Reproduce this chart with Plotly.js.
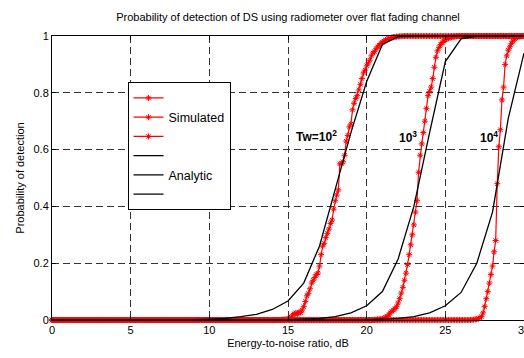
<!DOCTYPE html>
<html>
<head>
<meta charset="utf-8">
<script src="https://cdn.plot.ly/plotly-3.0.1.min.js"></script>
<style>html,body{margin:0;padding:0;background:#fff;}#chart{width:524px;height:358px;}</style>
</head>
<body>
<div id="chart"></div>
<script>
// Analytic curves, sampled at integer dB (0..30)
const anaX = [0,1,2,3,4,5,6,7,8,9,10,11,12,13,14,15,16,17,18,19,20,21,22,23,24,25,26,27,28,29,30];
const anaY100 = [0,0,0,0,0,0,0,0,0,0.001,0.003,0.006,0.012,0.02,0.037,0.067,0.13,0.26,0.46,0.66,0.84,0.97,0.998,1,1,1,1,1,1,1,1];
const anaY1000 = [0,0,0,0,0,0,0,0,0,0,0,0,0,0,0,0.001,0.003,0.006,0.012,0.025,0.05,0.1,0.215,0.40,0.66,0.91,0.99,1,1,1,1];
const anaY10000 = [0,0,0,0,0,0,0,0,0,0,0,0,0,0,0,0,0,0,0,0,0.001,0.003,0.006,0.012,0.025,0.05,0.097,0.2,0.38,0.71,0.94];

// Simulated curves, sampled every 0.1 dB (0..30), one row per dB
const simY100 = [
 0,0,0,0,0,0,0,0,0,0, 0,0,0,0,0,0,0,0,0,0, 0,0,0,0,0,0,0,0,0,0, 0,0,0,0,0,0,0,0,0,0, 0,0,0,0,0,0,0,0,0,0,
 0,0,0,0,0,0,0,0,0,0, 0,0,0,0,0,0,0,0,0,0, 0,0,0,0,0,0,0,0,0,0, 0,0,0,0,0,0,0,0,0,0, 0,0,0,0,0,0,0,0,0,0,
 0,0,0,0,0,0,0,0,0,0, 0,0,0,0,0,0,0,0,0,0, 0,0,0,0,0,0,0,0,0,0, 0,0,0,0,0,0,0,0,0,0,
 0,0,0,0,0,0,0.001,0.001,0.002,0.002,
 0.003,0.006,0.01,0.018,0.022,0.025,0.02,0.028,0.026,0.035,
 0.047,0.065,0.085,0.094,0.11,0.13,0.14,0.15,0.16,0.165,
 0.19,0.23,0.26,0.27,0.29,0.305,0.32,0.34,0.352,0.39,
 0.42,0.44,0.458,0.55,0.55,0.557,0.58,0.63,0.65,0.68,
 0.69,0.74,0.763,0.78,0.79,0.81,0.83,0.85,0.87,0.88,
 0.895,0.905,0.915,0.93,0.94,0.945,0.955,0.962,0.968,0.974,
 0.978,0.982,0.986,0.989,0.991,0.993,0.995,0.996,0.997,0.998,
 0.998,0.999,0.999,1,1,1,1,1,1,1,
 1,1,1,1,1,1,1,1,1,1, 1,1,1,1,1,1,1,1,1,1, 1,1,1,1,1,1,1,1,1,1, 1,1,1,1,1,1,1,1,1,1,
 1,1,1,1,1,1,1,1,1,1, 1,1,1,1,1,1,1,1,1,1, 1,1,1,1,1,1,1,1,1,1,
 1
];
const simY1000 = [
 0,0,0,0,0,0,0,0,0,0, 0,0,0,0,0,0,0,0,0,0, 0,0,0,0,0,0,0,0,0,0, 0,0,0,0,0,0,0,0,0,0, 0,0,0,0,0,0,0,0,0,0,
 0,0,0,0,0,0,0,0,0,0, 0,0,0,0,0,0,0,0,0,0, 0,0,0,0,0,0,0,0,0,0, 0,0,0,0,0,0,0,0,0,0, 0,0,0,0,0,0,0,0,0,0,
 0,0,0,0,0,0,0,0,0,0, 0,0,0,0,0,0,0,0,0,0, 0,0,0,0,0,0,0,0,0,0, 0,0,0,0,0,0,0,0,0,0, 0,0,0,0,0,0,0,0,0,0,
 0,0,0,0,0,0,0,0,0,0, 0,0,0,0,0,0,0,0,0,0, 0,0,0,0,0,0,0,0,0,0, 0,0,0,0,0,0,0,0,0,0, 0,0,0,0,0,0,0,0,0,0,
 0,0,0,0,0,0.001,0.001,0.002,0.002,0.003,
 0.004,0.006,0.01,0.012,0.018,0.025,0.03,0.035,0.04,0.047,
 0.06,0.075,0.095,0.115,0.14,0.165,0.195,0.23,0.265,0.3,
 0.335,0.38,0.42,0.52,0.58,0.62,0.66,0.70,0.745,0.79,
 0.805,0.82,0.85,0.89,0.925,0.948,0.96,0.97,0.977,0.982,
 0.986,0.99,0.992,0.994,0.996,0.997,0.998,0.999,1,1,
 1,1,1,1,1,1,1,1,1,1, 1,1,1,1,1,1,1,1,1,1, 1,1,1,1,1,1,1,1,1,1, 1,1,1,1,1,1,1,1,1,1,
 1
];
const simY10000 = [
 0,0,0,0,0,0,0,0,0,0, 0,0,0,0,0,0,0,0,0,0, 0,0,0,0,0,0,0,0,0,0, 0,0,0,0,0,0,0,0,0,0, 0,0,0,0,0,0,0,0,0,0,
 0,0,0,0,0,0,0,0,0,0, 0,0,0,0,0,0,0,0,0,0, 0,0,0,0,0,0,0,0,0,0, 0,0,0,0,0,0,0,0,0,0, 0,0,0,0,0,0,0,0,0,0,
 0,0,0,0,0,0,0,0,0,0, 0,0,0,0,0,0,0,0,0,0, 0,0,0,0,0,0,0,0,0,0, 0,0,0,0,0,0,0,0,0,0, 0,0,0,0,0,0,0,0,0,0,
 0,0,0,0,0,0,0,0,0,0, 0,0,0,0,0,0,0,0,0,0, 0,0,0,0,0,0,0,0,0,0, 0,0,0,0,0,0,0,0,0,0, 0,0,0,0,0,0,0,0,0,0,
 0,0,0,0,0,0,0,0,0,0, 0,0,0,0,0,0,0,0,0,0, 0,0,0,0,0,0,0,0,0,0, 0,0,0,0,0,0,0,0,0,0, 0,0,0,0,0,0,0,0,0,0,
 0,0,0,0,0,0,0,0,0,0,
 0,0,0,0,0,0,0,0.001,0.001,0.002,
 0.003,0.005,0.008,0.012,0.025,0.047,0.075,0.1,0.13,0.16,
 0.19,0.24,0.28,0.48,0.61,0.67,0.775,0.82,0.9,0.93,
 0.95,0.962,0.974,0.982,0.99,0.993,0.996,0.998,0.999,1,
 1
];
// sampling grid of the simulation: 0, 0.1, ..., 30 dB
const simX = simY100.map((_, i) => i / 10);

const xTicks = [0, 5, 10, 15, 20, 25, 30];
const yTicks = [0, 0.2, 0.4, 0.6, 0.8, 1];

const labelTw = ["Tw=10<sup>2</sup>", "10<sup>3</sup>", "10<sup>4</sup>"];
const labelX = [16.8, 22.65, 27.75];
const labelY = [0.648, 0.645, 0.645];

const FONT = "Liberation Sans, Arial, sans-serif";
const RED = "#ff0000";

function simTrace(y, name) {
  return {
    x: simX, y: y, name: name, type: "scatter", mode: "lines+markers",
    line: {color: RED, width: 1.2},
    marker: {symbol: "asterisk-open", size: 5, color: RED, line: {color: RED, width: 1}},
    cliponaxis: false, showlegend: true
  };
}
function anaTrace(y, name) {
  return {
    x: anaX, y: y, name: name, type: "scatter", mode: "lines",
    line: {color: "#000000", width: 1.3}, showlegend: true
  };
}

const data = [
  simTrace(simY100, " "),
  simTrace(simY1000, "Simulated"),
  simTrace(simY10000, " "),
  anaTrace(anaY100, " "),
  anaTrace(anaY1000, "Analytic"),
  anaTrace(anaY10000, " ")
];

const annotations = labelTw.map((t, i) => ({
  x: labelX[i], y: labelY[i], xref: "x", yref: "y", text: "<b>" + t + "</b>",
  showarrow: false, xanchor: "center", yanchor: "middle",
  font: {family: FONT, size: 12, color: "#000"}
}));

const axisCommon = {
  showline: true, linecolor: "#000", linewidth: 1, mirror: "ticks",
  ticks: "inside", ticklen: 4, tickcolor: "#000", tickwidth: 1,
  showgrid: true, gridcolor: "#333", gridwidth: 1, griddash: "7px,4px",
  zeroline: false, ticklabeloverflow: "allow",
  tickfont: {family: FONT, size: 11, color: "#000"}
};

const layout = {
  width: 524, height: 358,
  margin: {l: 52, r: 0, t: 36, b: 38},
  paper_bgcolor: "#fff", plot_bgcolor: "#fff",
  font: {family: FONT, size: 11, color: "#000"},
  title: {text: "Probability of detection of DS using radiometer over flat fading channel",
          font: {family: FONT, size: 11, color: "#000"},
          x: 0.5, xref: "paper", y: 0.952, yref: "container", yanchor: "middle"},
  xaxis: Object.assign({}, axisCommon, {
    range: [0, 30], tickvals: xTicks, autorange: false,
    title: {text: "Energy-to-noise ratio, dB", font: {family: FONT, size: 11, color: "#000"}, standoff: 4}
  }),
  yaxis: Object.assign({}, axisCommon, {
    range: [0, 1], tickvals: yTicks, autorange: false,
    title: {text: "Probability of detection", font: {family: FONT, size: 11, color: "#000"}, standoff: 6}
  }),
  legend: {
    x: 0.160, y: 0.837, xanchor: "left", yanchor: "top",
    bgcolor: "#fff", bordercolor: "#000", borderwidth: 1,
    font: {family: FONT, size: 12.5, color: "#000"},
    traceorder: "normal"
  },
  annotations: annotations,
  showlegend: true
};

Plotly.newPlot("chart", data, layout, {staticPlot: true, displayModeBar: false});
</script>
</body>
</html>
